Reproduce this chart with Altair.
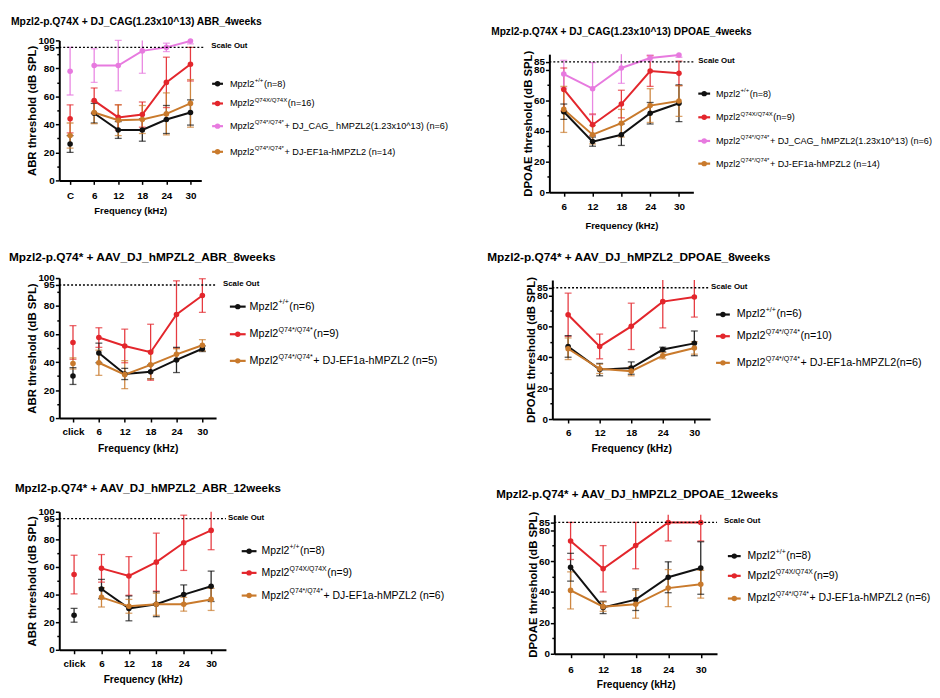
import pandas as pd
import altair as alt

FONT = "Liberation Sans"

BLACK = "#111111"
RED = "#E3262C"
PINK = "#E77ADF"
ORANGE = "#C97A2C"

# frequencies
freq_c = ["C", "6", "12", "18", "24", "30"]
freq_click = ["click", "6", "12", "18", "24", "30"]
freq_dp = ["6", "12", "18", "24", "30"]

# ABR 4 weeks
abr4_wt = [26, 48, 36, 36, 43.5, 48.5]
abr4_wt_err = [6, 7, 6, 8, 10, 9]
abr4_ko = [44, 57, 45, 47, 70, 83]
abr4_ko_err = [10, 9, 9, 9, 18, 12]
abr4_cag = [78, 82, 82, 92.5, 95, 99.5]
abr4_cag_err = [17, 12, 18, 16, 3, 2]
abr4_ef = [32, 48.5, 43, 43.5, 47.5, 55]
abr4_ef_err = [9, 8, 11, 10, 15, 17]

# DPOAE 4 weeks
dp4_wt = [52.5, 33, 37.5, 51.5, 58]
dp4_wt_err = [5, 3, 7, 7, 12]
dp4_ko = [67, 44, 57.5, 79, 77.5]
dp4_ko_err = [14, 7, 9, 10, 8]
dp4_cag = [77, 67.5, 81, 87.5, 89.5]
dp4_cag_err = [9, 17, 10, 2, 1.5]
dp4_ef = [54, 37.5, 45, 56.5, 59.5]
dp4_ef_err = [15, 6, 9, 11, 10]

# ABR 8 weeks
abr8_wt = [30, 46.5, 31.5, 33, 41.5, 49.5]
abr8_wt_err = [6, 7, 4, 5, 9, 2]
abr8_ko = [54, 57.5, 51.5, 47, 74, 87.5]
abr8_ko_err = [12, 7, 12, 20, 24, 12]
abr8_ef = [39, 39.5, 31, 38, 45.5, 52]
abr8_ef_err = [4, 9, 10, 10, 4, 4]

# DPOAE 8 weeks
dp8_wt = [47, 32, 33, 45, 49]
dp8_wt_err = [7, 4, 4, 1.5, 8]
dp8_ko = [67.5, 47, 60, 76, 79]
dp8_ko_err = [14, 8, 15, 17, 13]
dp8_ef = [45.5, 32.5, 31, 41, 46]
dp8_ef_err = [7, 3, 3, 2, 4]

# ABR 12 weeks
abr12_wt = [25, 44, 30, 33, 40, 46]
abr12_wt_err = [5, 7, 9, 9, 7, 11]
abr12_ko = [54.5, 59, 53.5, 63.5, 77.5, 86.5]
abr12_ko_err = [14, 10, 14, 21, 20, 14]
abr12_ef = [None, 38, 31.5, 33, 33, 36.5]
abr12_ef_err = [None, 7, 5, 8, 5, 8]

# DPOAE 12 weeks
dp12_wt = [56, 30, 35, 49.5, 55.5]
dp12_wt_err = [9, 4, 7, 10, 17]
dp12_ko = [73, 55, 70, 85, 85]
dp12_ko_err = [12, 15, 15, 12, 12]
dp12_ef = [41, 30.5, 32, 42.5, 45]
dp12_ef_err = [12, 3, 9, 12, 9]

# Arial advance widths (per 1000 em), used to place the legend superscripts
ARIAL = {"M": 833, "p": 556, "z": 500, "l": 222, "2": 556, "+": 584, "/": 278,
         "Q": 778, "7": 556, "4": 556, "X": 667, "*": 389, " ": 278}


def text_w(s, size):
    return sum(ARIAL.get(ch, 556) for ch in s) / 1000 * size


def make_df(freqs, series, ymax):
    rows = []
    for grp, means, errs in series:
        for f, m, e in zip(freqs, means, errs):
            if m is None:
                continue
            # bars running past the axis top are cut there, without a cap
            rows.append({"freq": f, "grp": grp, "mean": m, "lo": m - e,
                         "hi": min(m + e, ymax), "cap": m + e <= ymax})
    return pd.DataFrame(rows)


def panel(freqs, series, colors, legend, cfg):
    df = make_df(freqs, series, cfg["ydom"][1])
    W, H, sh = cfg["w"], cfg["h"], cfg.get("ysh", 0)
    grps = [s[0] for s in series]
    xs = alt.Scale(type="point", domain=freqs, padding=cfg["pad"])
    ys = alt.Scale(domain=cfg["ydom"], nice=False, range=[H + sh, sh])
    x = alt.X("freq:N", scale=xs, sort=freqs,
              axis=alt.Axis(title="Frequency (kHz)", labelAngle=0, labelFontSize=cfg["lfs"],
                            titleFontSize=cfg["xtfs"], titlePadding=cfg["xtp"],
                            labelPadding=cfg["xlp"]))
    major = cfg["yticks"]
    minor = [v for v in range(10, int(cfg["ydom"][1]), 20)]
    test = "indexof(%s, datum.value) >= 0" % str(major)
    yax = alt.Axis(values=sorted(major + minor), title=cfg["ytitle"], labelOverlap=False,
                   labelExpr="%s ? datum.label : ''" % test,
                   tickSize={"condition": {"test": test, "value": 4}, "value": 2.5},
                   labelPadding=1, labelFontSize=cfg["lfs"], titleFontSize=11.5,
                   titlePadding=0)
    color = alt.Color("grp:N", scale=alt.Scale(domain=grps, range=colors), legend=None)
    base = alt.Chart(df)

    def yq(field):
        return alt.Y(field, type="quantitative", scale=ys, axis=yax)

    bars = base.mark_rule(strokeWidth=1.3, opacity=0.9).encode(
        x=x, y=yq("lo"), y2="hi:Q", color=color)
    cap_lo = base.mark_tick(size=7, thickness=1.3).encode(x=x, y=yq("lo"), color=color)
    cap_hi = base.transform_filter("datum.cap").mark_tick(size=7, thickness=1.3).encode(
        x=x, y=yq("hi"), color=color)
    line = base.transform_filter("datum.freq != 'C' && datum.freq != 'click'").mark_line(
        strokeWidth=2).encode(x=x, y=yq("mean"), color=color)
    pts = base.mark_point(filled=True, size=32, opacity=1).encode(
        x=x, y=yq("mean"), color=color)

    so = alt.Chart(pd.DataFrame({"v": [cfg["so"]]}))
    so_rule = so.mark_rule(strokeDash=[2, 2], strokeWidth=1.4, color="black").encode(
        y=yq("v"), x=alt.value(0), x2=alt.value(cfg["so_end"]))
    so_text = so.mark_text(text="Scale Out", align="left", baseline="middle", font=FONT,
                           fontWeight="bold", fontSize=8, dy=-1).encode(
        y=yq("v"), x=alt.value(cfg["so_x"]))

    layers = [bars, cap_lo, cap_hi, line, pts, so_rule, so_text]

    one = alt.Chart(pd.DataFrame({"a": [0]}))

    # panel heading, placed relative to the plot corner
    tx, ty = cfg["tpos"]
    layers.append(one.mark_text(text=cfg["title"], align="left", baseline="middle",
                                font=FONT, fontWeight="bold", fontSize=cfg["tfs"],
                                color="black").encode(x=alt.value(tx), y=alt.value(ty)))

    # invisible corner markers so that every panel takes up a fixed box
    for bx, by in cfg["box"]:
        layers.append(one.mark_point(opacity=0, size=1).encode(
            x=alt.value(bx), y=alt.value(by)))

    # hand-drawn legend with superscript genotypes
    sx0, sx1, lx = cfg["leg_sym"][0], cfg["leg_sym"][1], cfg["leg_tx"]
    fs = cfg["leg_fs"]
    sfs = fs * 0.66
    for (sup, suffix), col, ly in zip(legend, colors, cfg["leg_y"]):
        ly = ly + sh
        layers.append(one.mark_rule(strokeWidth=2.2, color=col).encode(
            x=alt.value(sx0), x2=alt.value(sx1), y=alt.value(ly)))
        layers.append(one.mark_point(filled=True, size=30, opacity=1, color=col).encode(
            x=alt.value((sx0 + sx1) / 2), y=alt.value(ly)))
        layers.append(one.mark_text(text="Mpzl2", align="left", baseline="middle",
                                    font=FONT, fontSize=fs).encode(
            x=alt.value(lx), y=alt.value(ly)))
        xsup = lx + text_w("Mpzl2", fs) + 0.3
        layers.append(one.mark_text(text=sup, align="left", baseline="middle",
                                    font=FONT, fontSize=sfs).encode(
            x=alt.value(xsup), y=alt.value(ly - fs * 0.4)))
        xsuf = xsup + text_w(sup, sfs) + 0.5
        layers.append(one.mark_text(text=suffix, align="left", baseline="middle",
                                    font=FONT, fontSize=fs).encode(
            x=alt.value(xsuf), y=alt.value(ly)))

    return alt.layer(*layers).properties(width=W, height=H + sh)


ABR_T = "ABR threshold (dB SPL)"
DP_T = "DPOAE threshold (dB SPL)"
ABR_TICKS = [0, 20, 40, 60, 80, 95, 100]
DP_TICKS = [0, 20, 40, 60, 80, 85]

p1 = panel(
    freq_c,
    [("wt", abr4_wt, abr4_wt_err), ("ko", abr4_ko, abr4_ko_err),
     ("cag", abr4_cag, abr4_cag_err), ("ef", abr4_ef, abr4_ef_err)],
    [BLACK, RED, PINK, ORANGE],
    [("+/+", " (n=8)"), ("Q74X/Q74X", " (n=16)"),
     ("Q74*/Q74*", " + DJ_CAG_ hMPZL2(1.23x10^13) (n=6)"),
     ("Q74*/Q74*", " + DJ-EF1a-hMPZL2 (n=14)")],
    dict(title="Mpzl2-p.Q74X + DJ_CAG(1.23x10^13) ABR_4weeks", tpos=(-49, -19),
         box=[(-49, -27), (413, 212)],
         w=144, h=142, pad=0.45, ydom=[0, 100], yticks=ABR_TICKS, ytitle=ABR_T, so=95,
         so_end=147, so_x=154, lfs=10, xtfs=9.5, xlp=6, xtp=6, tfs=10.5,
         leg_sym=(155, 166), leg_tx=173, leg_y=[44, 64, 87, 113], leg_fs=9.3),
)

p2 = panel(
    freq_dp,
    [("wt", dp4_wt, dp4_wt_err), ("ko", dp4_ko, dp4_ko_err),
     ("cag", dp4_cag, dp4_cag_err), ("ef", dp4_ef, dp4_ef_err)],
    [BLACK, RED, PINK, ORANGE],
    [("+/+", " (n=8)"), ("Q74X/Q74X", " (n=9)"),
     ("Q74*/Q74*", " + DJ_CAG_ hMPZL2(1.23x10^13) (n=6)"),
     ("Q74*/Q74*", " + DJ-EF1a-hMPZL2 (n=14)")],
    dict(title="Mpzl2-p.Q74X + DJ_CAG(1.23x10^13) DPOAE_4weeks", tpos=(-59, -8),
         box=[(-82, -27), (0, 212)],
         w=146, h=140, ysh=14, pad=0.5, ydom=[0, 90], yticks=DP_TICKS, ytitle=DP_T, so=85,
         so_end=148, so_x=151, lfs=10, xtfs=9.5, xlp=6, xtp=9, tfs=10.3,
         leg_sym=(151, 163), leg_tx=169, leg_y=[40, 64, 88, 111], leg_fs=9.2),
)

p3 = panel(
    freq_click,
    [("wt", abr8_wt, abr8_wt_err), ("ko", abr8_ko, abr8_ko_err), ("ef", abr8_ef, abr8_ef_err)],
    [BLACK, RED, ORANGE],
    [("+/+", " (n=6)"), ("Q74*/Q74*", "  (n=9)"), ("Q74*/Q74*", " + DJ-EF1a-hMPZL2 (n=5)")],
    dict(title="Mpzl2-p.Q74* + AAV_DJ_hMPZL2_ABR_8weeks", tpos=(-51, -21),
         box=[(-51, -27), (411, 207)],
         w=159, h=142, pad=0.53, ydom=[0, 100], yticks=ABR_TICKS, ytitle=ABR_T, so=95,
         so_end=159, so_x=166, lfs=10, xtfs=10.5, xlp=5, xtp=7, tfs=12,
         leg_sym=(173, 189), leg_tx=193, leg_y=[29, 57, 84], leg_fs=10.9),
)

p4 = panel(
    freq_dp,
    [("wt", dp8_wt, dp8_wt_err), ("ko", dp8_ko, dp8_ko_err), ("ef", dp8_ef, dp8_ef_err)],
    [BLACK, RED, ORANGE],
    [("+/+", " (n=6)"), ("Q74*/Q74*", "  (n=10)"), ("Q74*/Q74*", " + DJ-EF1a-hMPZL2(n=6)")],
    dict(title="Mpzl2-p.Q74* + AAV_DJ_hMPZL2_DPOAE_8weeks", tpos=(-66, -21),
         box=[(-87, -27), (0, 207)],
         w=160, h=141, ysh=2, pad=0.5, ydom=[0, 90], yticks=DP_TICKS, ytitle=DP_T, so=85,
         so_end=158, so_x=161, lfs=10, xtfs=10.5, xlp=5, xtp=6, tfs=12,
         leg_sym=(166, 180), leg_tx=187, leg_y=[35, 57, 84], leg_fs=10.9),
)

p5 = panel(
    freq_click,
    [("wt", abr12_wt, abr12_wt_err), ("ko", abr12_ko, abr12_ko_err), ("ef", abr12_ef, abr12_ef_err)],
    [BLACK, RED, ORANGE],
    [("+/+", " (n=8)"), ("Q74X/Q74X", " (n=9)"), ("Q74*/Q74*", " + DJ-EF1a-hMPZL2 (n=6)")],
    dict(title="Mpzl2-p.Q74* + AAV_DJ_hMPZL2_ABR_12weeks", tpos=(-45, -24),
         box=[(-45, -27), (417, 0)],
         w=169, h=140, pad=0.54, ydom=[0, 100], yticks=ABR_TICKS, ytitle=ABR_T, so=95,
         so_end=169, so_x=171, lfs=10, xtfs=10.3, xlp=5, xtp=6, tfs=11.7,
         leg_sym=(185, 200), leg_tx=205, leg_y=[40, 62, 85], leg_fs=10.6),
)

p6 = panel(
    freq_dp,
    [("wt", dp12_wt, dp12_wt_err), ("ko", dp12_ko, dp12_ko_err), ("ef", dp12_ef, dp12_ef_err)],
    [BLACK, RED, ORANGE],
    [("+/+", " (n=8)"), ("Q74X/Q74X", " (n=9)"), ("Q74*/Q74*", " + DJ-EF1a-hMPZL2 (n=6)")],
    dict(title="Mpzl2-p.Q74* + AAV_DJ_hMPZL2_DPOAE_12weeks", tpos=(-59, -18),
         box=[(-83, -27), (0, 0)],
         w=165, h=141, ysh=3, pad=0.5, ydom=[0, 90], yticks=DP_TICKS, ytitle=DP_T, so=85,
         so_end=165, so_x=172, lfs=10, xtfs=10.3, xlp=7, xtp=5, tfs=11.7,
         leg_sym=(176, 189), leg_tx=196, leg_y=[42, 62, 85], leg_fs=10.6),
)

row1 = alt.hconcat(p1, p2, spacing=0)
row2 = alt.hconcat(p3, p4, spacing=0)
row3 = alt.hconcat(p5, p6, spacing=0)

chart = alt.vconcat(row1, row2, row3, spacing=0).properties(
    padding={"left": 0, "top": 0, "right": 0, "bottom": 0}
).configure_view(stroke=None).configure_axis(
    grid=False, domainColor="black", domainWidth=2, tickColor="black", tickWidth=1.5,
    tickSize=4, labelFont=FONT, labelFontWeight="bold", labelColor="black",
    labelOverlap=False, titleFont=FONT, titleFontWeight="bold", titleColor="black"
)

chart.save("out.html", embed_options={"renderer": "svg", "actions": False})
